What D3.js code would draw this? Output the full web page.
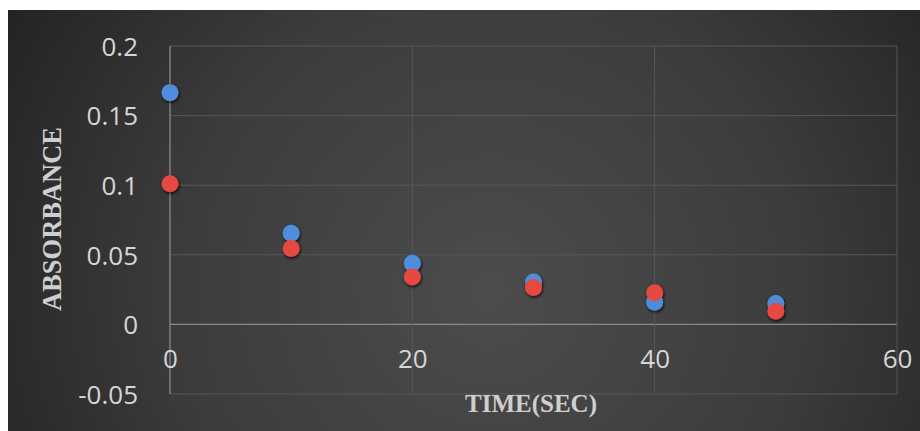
<!DOCTYPE html>
<html>
<head>
<meta charset="utf-8">
<script src="https://cdn.jsdelivr.net/npm/d3@7"></script>
<style>
  html, body { margin: 0; padding: 0; background: #ffffff; }
  svg { display: block; }
</style>
</head>
<body>
<script>
// Absorbance readings over time for two samples
const times = [0, 10, 20, 30, 40, 50];
const seriesBlue = [0.1665, 0.0655, 0.0440, 0.0305, 0.0160, 0.0150];
const seriesRed  = [0.1010, 0.0545, 0.0340, 0.0265, 0.0228, 0.0095];
const xTicks = [0, 20, 40, 60];
const yTicks = [-0.05, 0, 0.05, 0.1, 0.15, 0.2];
const xTitle = "TIME(SEC)";
const yTitle = "ABSORBANCE";

const W = 920, H = 431;
const svg = d3.select("body").append("svg").attr("width", W).attr("height", H);
const defs = svg.append("defs");

const grad = defs.append("radialGradient")
  .attr("id", "bg").attr("gradientUnits", "userSpaceOnUse")
  .attr("cx", 490).attr("cy", 290).attr("r", 560);
grad.append("stop").attr("offset", 0).attr("stop-color", "#4c4c4c");
grad.append("stop").attr("offset", 0.55).attr("stop-color", "#3c3c3c");
grad.append("stop").attr("offset", 1).attr("stop-color", "#232323");

const shadow = defs.append("filter").attr("id", "shadow")
  .attr("x", "-50%").attr("y", "-50%").attr("width", "200%").attr("height", "200%");
shadow.append("feDropShadow").attr("dx", 0.8).attr("dy", 1.5)
  .attr("stdDeviation", 1.6).attr("flood-color", "#000").attr("flood-opacity", 0.85);

// chart area background
svg.append("rect").attr("x", 8).attr("y", 10).attr("width", W - 8).attr("height", H - 10)
  .attr("fill", "url(#bg)");

const x = d3.scaleLinear().domain([0, 60]).range([170, 897]);
const y = d3.scaleLinear().domain([-0.05, 0.2]).range([394, 46]);

// gridlines
const grid = svg.append("g");
grid.selectAll("line.h").data(yTicks).join("line")
  .attr("x1", x(0)).attr("x2", x(60))
  .attr("y1", d => y(d)).attr("y2", d => y(d))
  .attr("stroke", d => d === 0 ? "#8a8a8a" : "#575757")
  .attr("stroke-width", d => d === 0 ? 1.3 : 1);
grid.selectAll("line.v").data(xTicks).join("line")
  .attr("y1", y(-0.05)).attr("y2", y(0.2))
  .attr("x1", d => x(d)).attr("x2", d => x(d))
  .attr("stroke", d => d === 0 ? "#8a8a8a" : "#575757")
  .attr("stroke-width", d => d === 0 ? 1.3 : 1);

const labelFont = "'Open Sans', 'DejaVu Sans', sans-serif";
const fmt = d => String(+d.toFixed(2));

// y tick labels
const yAxis = d3.axisLeft(y).tickValues(yTicks).tickSize(0).tickPadding(0).tickFormat(fmt);
const gy = svg.append("g").attr("transform", "translate(138,0)").call(yAxis);
gy.select(".domain").remove();
gy.selectAll("text").attr("fill", "#d6d6d6").attr("font-family", labelFont)
  .attr("font-size", 26).attr("dy", "0.36em");

// x tick labels, placed below the zero line
const xAxis = d3.axisBottom(x).tickValues(xTicks).tickSize(0).tickPadding(0).tickFormat(fmt);
const gx = svg.append("g").attr("transform", "translate(0,350)").call(xAxis);
gx.select(".domain").remove();
gx.selectAll("text").attr("fill", "#d6d6d6").attr("font-family", labelFont)
  .attr("font-size", 26).attr("dy", "0.68em");

// axis titles
const titleFont = "'Liberation Serif', 'DejaVu Serif', serif";
svg.append("text").text(xTitle)
  .attr("x", 531).attr("y", 412).attr("text-anchor", "middle")
  .attr("font-family", titleFont).attr("font-weight", "bold").attr("font-size", 25)
  .attr("fill", "#cfcfcf");
svg.append("text").text(yTitle)
  .attr("transform", "translate(61,219) rotate(-90)").attr("text-anchor", "middle")
  .attr("font-family", titleFont).attr("font-weight", "bold").attr("font-size", 26.5)
  .attr("fill", "#cfcfcf");

// markers: blue series first, red drawn on top
const marks = svg.append("g").attr("filter", "url(#shadow)");
marks.selectAll("circle.blue").data(times).join("circle").attr("class", "blue")
  .attr("cx", d => x(d)).attr("cy", (d, i) => y(seriesBlue[i])).attr("r", 8.5)
  .attr("fill", "#4f8ddc");
marks.selectAll("circle.red").data(times).join("circle").attr("class", "red")
  .attr("cx", d => x(d)).attr("cy", (d, i) => y(seriesRed[i])).attr("r", 8.5)
  .attr("fill", "#e5483f");
</script>
</body>
</html>
